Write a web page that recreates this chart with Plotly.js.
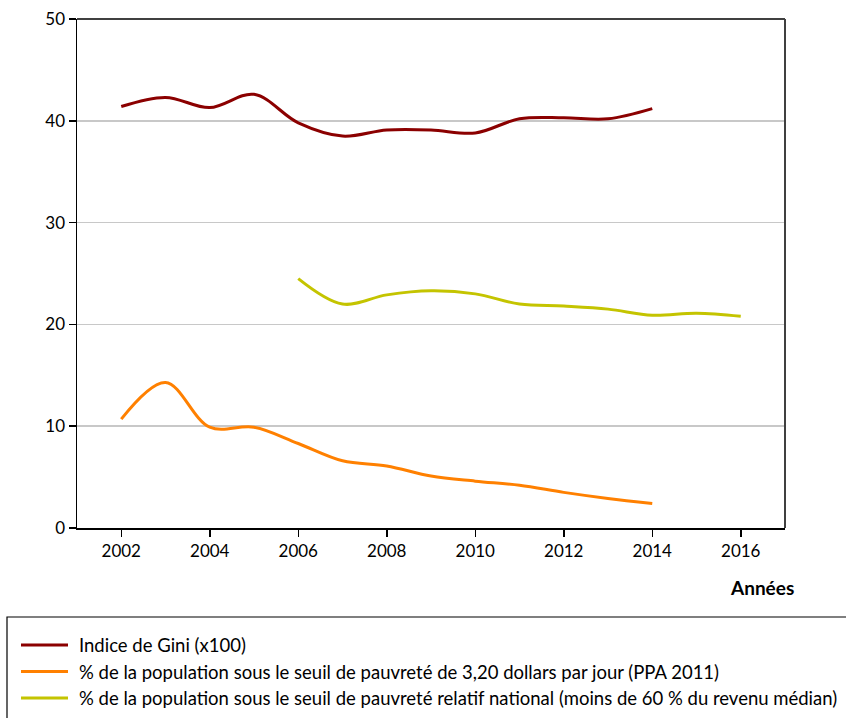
<!DOCTYPE html>
<html>
<head>
<meta charset="utf-8">
<script src="https://cdn.plot.ly/plotly-3.0.1.min.js"></script>
<style>html,body{margin:0;padding:0;background:#fff;}#chart{width:846px;height:718px;}</style>
</head>
<body>
<div id="chart"></div>
<script>
const giniYears = [2002, 2003, 2004, 2005, 2006, 2007, 2008, 2009, 2010, 2011, 2012, 2013, 2014];
const giniValues = [41.4, 42.3, 41.3, 42.6, 39.8, 38.5, 39.1, 39.1, 38.8, 40.2, 40.3, 40.2, 41.2];
const pov320Years = [2002, 2003, 2004, 2005, 2006, 2007, 2008, 2009, 2010, 2011, 2012, 2013, 2014];
const pov320Values = [10.7, 14.3, 9.9, 9.9, 8.3, 6.6, 6.1, 5.1, 4.6, 4.2, 3.5, 2.9, 2.4];
const relYears = [2006, 2007, 2008, 2009, 2010, 2011, 2012, 2013, 2014, 2015, 2016];
const relValues = [24.5, 22.0, 22.9, 23.3, 23.0, 22.0, 21.8, 21.5, 20.9, 21.1, 20.8];
const seriesNames = [
  "Indice de Gini (x100)",
  "% de la population sous le seuil de pauvreté de 3,20 dollars par jour (PPA 2011)",
  "% de la population sous le seuil de pauvreté relatif national (moins de 60 % du revenu médian)"
];
const seriesColors = ["#8b0000", "#ff8000", "#c4c400"];
const xTicks = [2002, 2004, 2006, 2008, 2010, 2012, 2014, 2016];
const yTicks = [0, 10, 20, 30, 40, 50];
const xAxisTitle = "Années";

const FONT = "Lato, 'Open Sans', sans-serif";
const W = 846, H = 718;
const M = {l: 77, r: 61, t: 19, b: 190};
const PW = W - M.l - M.r, PH = H - M.t - M.b;
const px = v => (v - M.l) / PW;          // page pixel -> paper x
const py = v => (H - M.b - v) / PH;      // page pixel -> paper y

const series = [[giniYears, giniValues], [pov320Years, pov320Values], [relYears, relValues]];
const traces = series.map((s, i) => ({
  x: s[0], y: s[1], name: seriesNames[i], mode: "lines", showlegend: false,
  line: {color: seriesColors[i], width: 3, shape: "spline", smoothing: 1}
}));

// top and right frame lines (dark grey)
const shapes = [
  {type: "line", xref: "paper", yref: "paper", x0: 0, x1: 1, y0: 1, y1: 1,
   line: {color: "#404040", width: 2}, layer: "above"},
  {type: "line", xref: "paper", yref: "paper", x0: 1, x1: 1, y0: 0, y1: 1,
   line: {color: "#404040", width: 2}, layer: "above"}
];
// legend drawn by hand (box, line samples, texts)
const legendRowsY = [645, 671.5, 698];
shapes.push({
  type: "rect", xref: "paper", yref: "paper",
  x0: px(7), x1: px(852), y0: py(617), y1: py(726),
  line: {color: "#000", width: 1.2}, fillcolor: "rgba(0,0,0,0)", layer: "above"
});
const annotations = [{
  text: "<b>" + xAxisTitle + "</b>", xref: "paper", yref: "paper", x: px(762), y: py(587),
  xanchor: "center", yanchor: "middle", showarrow: false,
  font: {family: FONT, size: 19, color: "#000"}
}];
seriesNames.forEach((name, i) => {
  shapes.push({type: "line", xref: "paper", yref: "paper",
    x0: px(21), x1: px(68), y0: py(legendRowsY[i]), y1: py(legendRowsY[i]),
    line: {color: seriesColors[i], width: 3}});
  annotations.push({text: name, xref: "paper", yref: "paper",
    x: px(77), y: py(legendRowsY[i]), xanchor: "left", yanchor: "middle",
    showarrow: false, font: {family: FONT, size: 18.5, color: "#000"}});
});

const layout = {
  width: W, height: H,
  margin: M,
  paper_bgcolor: "#ffffff", plot_bgcolor: "#ffffff",
  font: {family: FONT, size: 17, color: "#000"},
  showlegend: false,
  xaxis: {
    range: [2001, 2017], tickvals: xTicks, ticktext: xTicks.map(String),
    showgrid: false, zeroline: false, showline: true, linecolor: "#000", linewidth: 1.5,
    mirror: false, ticks: "outside", ticklen: 7, tickcolor: "#000", tickwidth: 1.5,
    tickfont: {family: FONT, size: 17, color: "#000"}, fixedrange: true, automargin: false
  },
  yaxis: {
    range: [0, 50], tickvals: yTicks, ticktext: yTicks.map(String),
    showgrid: true, gridcolor: "#c8c8c8", gridwidth: 1.5, zeroline: false,
    showline: true, linecolor: "#000", linewidth: 1.5, mirror: false,
    ticks: "outside", ticklen: 7, tickcolor: "#000", tickwidth: 1.5,
    tickfont: {family: FONT, size: 17, color: "#000"}, fixedrange: true, automargin: false
  },
  shapes: shapes,
  annotations: annotations
};

Plotly.newPlot("chart", traces, layout, {displayModeBar: false, staticPlot: true});
</script>
</body>
</html>
